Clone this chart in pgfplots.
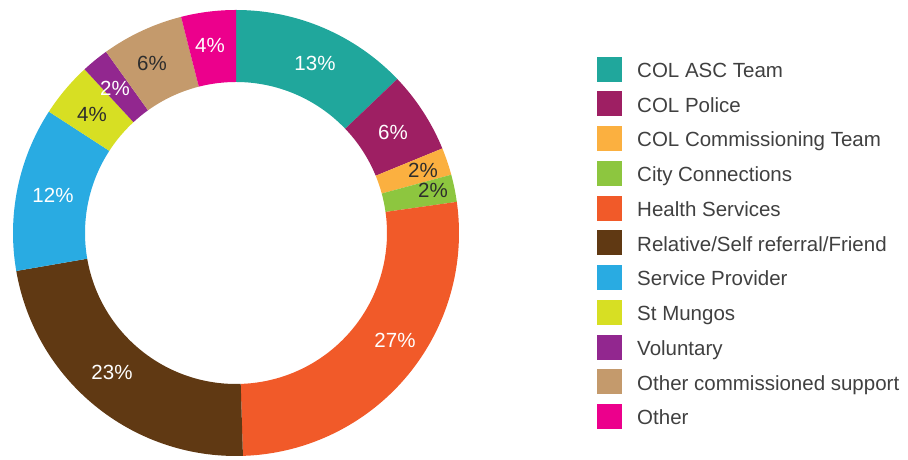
\documentclass[border=0pt]{standalone}
\usepackage{pgfplots}
\pgfplotsset{compat=1.18}
\usepackage{pgfplotstable}
\usepackage{fontspec}
\setmainfont{Liberation Sans}

% slice colours, clockwise from 12 o'clock
\definecolor{c0}{RGB}{32,167,156}
\definecolor{c1}{RGB}{158,31,99}
\definecolor{c2}{RGB}{251,176,64}
\definecolor{c3}{RGB}{141,198,63}
\definecolor{c4}{RGB}{241,90,41}
\definecolor{c5}{RGB}{96,57,19}
\definecolor{c6}{RGB}{41,171,226}
\definecolor{c7}{RGB}{215,223,35}
\definecolor{c8}{RGB}{146,39,143}
\definecolor{c9}{RGB}{196,154,108}
\definecolor{c10}{RGB}{236,0,140}
\definecolor{lbldark}{RGB}{45,45,45}
\definecolor{legtext}{RGB}{64,64,64}
\colorlet{t0}{white}\colorlet{t1}{white}\colorlet{t2}{lbldark}
\colorlet{t3}{lbldark}\colorlet{t4}{white}\colorlet{t5}{white}
\colorlet{t6}{white}\colorlet{t7}{lbldark}\colorlet{t8}{white}
\colorlet{t9}{lbldark}\colorlet{t10}{white}

% legend names
\expandafter\def\csname ln0\endcsname{COL ASC Team}
\expandafter\def\csname ln1\endcsname{COL Police}
\expandafter\def\csname ln2\endcsname{COL Commissioning Team}
\expandafter\def\csname ln3\endcsname{City Connections}
\expandafter\def\csname ln4\endcsname{Health Services}
\expandafter\def\csname ln5\endcsname{Relative/Self referral/Friend}
\expandafter\def\csname ln6\endcsname{Service Provider}
\expandafter\def\csname ln7\endcsname{St Mungos}
\expandafter\def\csname ln8\endcsname{Voluntary}
\expandafter\def\csname ln9\endcsname{Other commissioned support}
\expandafter\def\csname ln10\endcsname{Other}

% share (%) and label position (px from left, px from bottom)
\pgfplotstableread{
val lx  ly
13  315 394
6   393 325
2   423 287
2   433 267
27  395 117
23  112 85
12  53  262
4   92  343
2   115 369
6   152 394
4   210 412
}\shares

% cumulative angles
\pgfplotstablegetrowsof{\shares}
\pgfmathtruncatemacro\lastrow{\pgfplotsretval-1}
\gdef\total{0}
\foreach \i in {0,...,\lastrow}{
  \pgfplotstablegetelem{\i}{val}\of\shares
  \pgfmathsetmacro\t{\total+\pgfplotsretval}
  \xdef\total{\t}
}
\gdef\cum{0}
\foreach \i in {0,...,\lastrow}{
  \pgfplotstablegetelem{\i}{val}\of\shares
  \let\v\pgfplotsretval
  \expandafter\xdef\csname v\i\endcsname{\v}
  \pgfmathsetmacro\a{90-\cum/\total*360}
  \pgfmathsetmacro\n{\cum+\v}
  \pgfmathsetmacro\b{90-\n/\total*360}
  \xdef\cum{\n}
  \expandafter\xdef\csname sa\i\endcsname{\a}
  \expandafter\xdef\csname ea\i\endcsname{\b}
  \pgfplotstablegetelem{\i}{lx}\of\shares
  \expandafter\xdef\csname lx\i\endcsname{\pgfplotsretval}
  \pgfplotstablegetelem{\i}{ly}\of\shares
  \expandafter\xdef\csname ly\i\endcsname{\pgfplotsretval}
}

\newcommand\ro{223pt}
\newcommand\ri{151pt}

\begin{document}
\begin{tikzpicture}
\begin{axis}[
    x=1pt, y=1pt,
    xmin=0, xmax=908, ymin=0, ymax=457,
    scale only axis, hide axis, clip=false,
]
\path (axis cs:0,0) rectangle (axis cs:908,457);

\pgfplotsinvokeforeach{0,...,10}{
  % ring segment
  \fill[c#1]
    ([shift={(\csname sa#1\endcsname:\ro)}]axis cs:236,224)
    arc[start angle=\csname sa#1\endcsname, end angle=\csname ea#1\endcsname, radius=\ro]
    -- ([shift={(\csname ea#1\endcsname:\ri)}]axis cs:236,224)
    arc[start angle=\csname ea#1\endcsname, end angle=\csname sa#1\endcsname, radius=\ri]
    -- cycle;
  \node[text=t#1, font=\fontsize{20.5}{24}\selectfont]
    at (axis cs:\csname lx#1\endcsname,\csname ly#1\endcsname) {\csname v#1\endcsname\%};
  % legend row
  \fill[c#1] ([yshift={-34.75pt*#1}]axis cs:596.7,400.3) rectangle ++(25pt,-25pt);
  \node[anchor=base west, inner sep=0pt, text=legtext, font=\fontsize{20.5}{24}\selectfont]
    at ([yshift={-34.75pt*#1}]axis cs:637,379.7) {\csname ln#1\endcsname};
}
\end{axis}
\end{tikzpicture}
\end{document}
